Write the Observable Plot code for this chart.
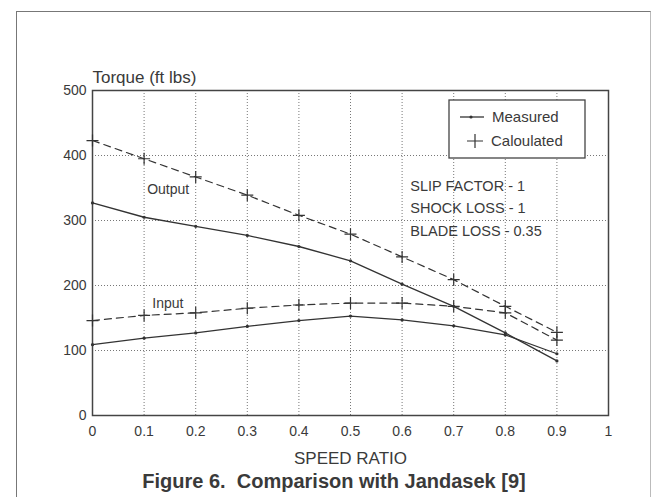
<!DOCTYPE html>
<html>
<head>
<meta charset="utf-8">
<script src="https://cdn.jsdelivr.net/npm/d3@7"></script>
<script src="https://cdn.jsdelivr.net/npm/@observablehq/plot@0.6"></script>
<style>
  body { margin: 0; background: #fff; }
  #wrap { position: relative; width: 652px; height: 497px; overflow: hidden; font-family: "Liberation Sans", Arial, sans-serif; color: #333; }
  #frame { position: absolute; left: 16px; top: 11px; width: 633px; height: 500px; border-left: 1.5px solid #777; border-top: 1.5px solid #777; border-right: 1px solid #bbb; }
  #chart { position: absolute; left: 0; top: 0; }
  #caption { position: absolute; left: 334px; top: 470px; transform: translateX(-50%); white-space: nowrap; font-weight: bold; font-size: 20px; line-height: 22px; color: #3a3a3a; }
</style>
</head>
<body>
<div id="wrap">
  <div id="frame"></div>
  <div id="chart"></div>
  <div id="caption">Figure 6.&nbsp; Comparison with Jandasek [9]</div>
</div>
<script>
// ---- data ----
const speedRatio = [0, 0.1, 0.2, 0.3, 0.4, 0.5, 0.6, 0.7, 0.8, 0.9];
const outputMeasured   = [327, 305, 291, 277, 260, 238, 202, 168, 127, 84];
const inputMeasured    = [109, 119, 127, 137, 146, 153, 147, 138, 124, 95];
const outputCalculated = [423, 395, 367, 339, 308, 279, 244, 209, 168, 128];
const inputCalculated  = [146, 154, 158, 165, 170, 173, 173, 168, 158, 116];
const xTicks = [0, 0.1, 0.2, 0.3, 0.4, 0.5, 0.6, 0.7, 0.8, 0.9, 1];
const yTicks = [0, 100, 200, 300, 400, 500];
const seriesLabels = [
  {text: "Output", x: 0.106, y: 347},
  {text: "Input", x: 0.116, y: 173}
];
const notes = [
  {text: "SLIP FACTOR - 1", x: 0.616, y: 353},
  {text: "SHOCK LOSS - 1", x: 0.616, y: 319},
  {text: "BLADE LOSS - 0.35", x: 0.616, y: 284}
];

const rows = (vals, series, kind) => vals.map((v, i) => ({x: speedRatio[i], y: v, series, kind}));
const measured = [...rows(outputMeasured, "output", "Measured"), ...rows(inputMeasured, "input", "Measured")];
const calculated = [...rows(outputCalculated, "output", "Calculated"), ...rows(inputCalculated, "input", "Calculated")];

const plus = {
  draw(ctx, size) {
    const r = Math.sqrt(size / Math.PI);
    ctx.moveTo(-r, 0); ctx.lineTo(r, 0);
    ctx.moveTo(0, -r); ctx.lineTo(0, r);
  }
};

const ink = "#3a3a3a";
const font = "Liberation Sans, Arial, sans-serif";

const plot = Plot.plot({
  width: 652,
  height: 470,
  marginLeft: 92,
  marginRight: 44,
  marginTop: 90,
  marginBottom: 55,
  style: {fontFamily: font, color: ink, background: "transparent"},
  x: {domain: [0, 1]},
  y: {domain: [0, 500]},
  marks: [
    Plot.gridX(xTicks.slice(1, -1), {stroke: "#555", strokeOpacity: 0.8, strokeDasharray: "1,2"}),
    Plot.gridY(yTicks.slice(1, -1), {stroke: "#555", strokeOpacity: 0.8, strokeDasharray: "1,2"}),
    Plot.frame({stroke: "#444", strokeWidth: 1.5}),
    Plot.axisX(xTicks, {tickSize: 0, tickPadding: 11, fontSize: 14, tickFormat: d => String(+d.toFixed(1)), label: null, fill: ink}),
    Plot.axisY(yTicks, {tickSize: 0, tickPadding: 6, fontSize: 14, label: null, fill: ink}),
    Plot.line(calculated, {x: "x", y: "y", z: "series", stroke: "#333", strokeWidth: 1.2, strokeDasharray: "7,5"}),
    Plot.dot(calculated, {x: "x", y: "y", symbol: plus, r: 6, stroke: "#333", fill: "none", strokeWidth: 1.2}),
    Plot.line(measured, {x: "x", y: "y", z: "series", stroke: "#333", strokeWidth: 1.3}),
    Plot.dot(measured, {x: "x", y: "y", r: 1.6, fill: "#333"}),
    Plot.text(seriesLabels, {x: "x", y: "y", text: "text", textAnchor: "start", fontSize: 14, fill: ink}),
    Plot.text(notes, {x: "x", y: "y", text: "text", textAnchor: "start", fontSize: 14.5, fill: ink}),
    Plot.text(["Torque (ft lbs)"], {frameAnchor: "top-left", dy: -13, textAnchor: "start", lineAnchor: "middle", fontSize: 17, fill: ink}),
    Plot.text(["SPEED RATIO"], {frameAnchor: "bottom", dy: 43, lineAnchor: "middle", fontSize: 17, fill: ink})
  ]
});
document.getElementById("chart").append(plot);

// legend box (drawn in pixel space inside the plot area)
const svg = d3.select(plot);
const lg = svg.append("g").attr("font-family", font).attr("fill", ink).attr("text-anchor", "start");
lg.append("rect").attr("x", 449).attr("y", 100).attr("width", 136).attr("height", 58)
  .attr("fill", "#fff").attr("stroke", "#444").attr("stroke-width", 1.3);
lg.append("line").attr("x1", 460).attr("x2", 484).attr("y1", 117).attr("y2", 117).attr("stroke", "#333").attr("stroke-width", 1.3);
lg.append("circle").attr("cx", 471).attr("cy", 117).attr("r", 1.6).attr("fill", "#333");
lg.append("path").attr("d", "M467,141H483M475,134V148").attr("stroke", "#333").attr("stroke-width", 1.2).attr("fill", "none");
lg.append("text").attr("x", 492).attr("y", 117).attr("dy", "0.35em").attr("font-size", 15).text("Measured");
lg.append("text").attr("x", 491).attr("y", 141).attr("dy", "0.35em").attr("font-size", 15).text("Caloulated");
</script>
</body>
</html>
